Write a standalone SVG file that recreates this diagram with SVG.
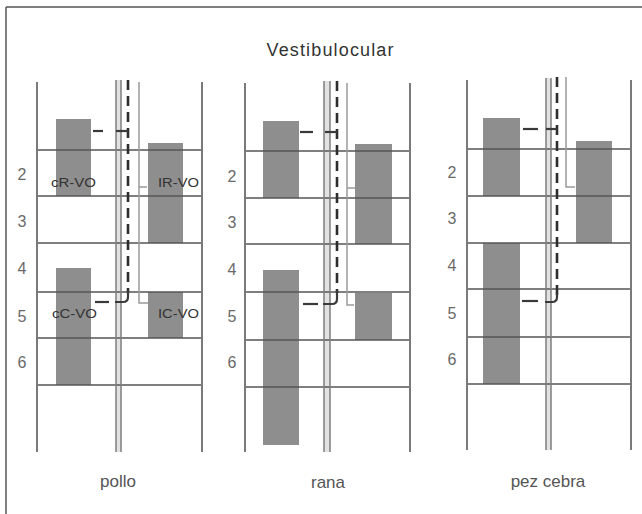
<svg xmlns="http://www.w3.org/2000/svg" width="642" height="514" viewBox="0 0 642 514">
<style>
.bg{fill:#ffffff}
.frame{stroke:#555;stroke-width:1.5;fill:none}
.rail{stroke:#7a7a7a;stroke-width:2;fill:none}
.mid{stroke:#7e7e7e;stroke-width:1.5;fill:none}
.band{fill:#e2e2e2}
.hl{stroke:#555;stroke-width:1.5;fill:none}
.box{fill:#8e8e8e}
.dash{stroke:#2e2e2e;stroke-width:2.6;stroke-dasharray:10 6;fill:none}
.seg{stroke:#3a3a3a;stroke-width:2.2;fill:none}
.thin{stroke:#9a9a9a;stroke-width:1.5;fill:none}
.num{font-family:"Liberation Sans",Arial,sans-serif;font-size:16px;fill:#6a6a6a;text-anchor:middle}
.lbl{font-family:"Liberation Sans",Arial,sans-serif;font-size:12px;fill:#333}
.cap{font-family:"Liberation Sans",Arial,sans-serif;font-size:17px;fill:#555;text-anchor:middle}
.title{font-family:"Liberation Sans",Arial,sans-serif;font-size:18px;fill:#333;text-anchor:middle}
</style>
<rect class="bg" x="0" y="0" width="642" height="514"/>
<g id="frame">
<line class="frame" x1="6" y1="7" x2="642" y2="7"/>
<line class="frame" x1="6" y1="7" x2="6" y2="514"/>
</g>
<text class="title" x="330" y="56" textLength="127">Vestibulocular</text>

<g id="pollo">
<rect class="box" x="56" y="119" width="35" height="77"/>
<rect class="box" x="148" y="143" width="35" height="100"/>
<rect class="box" x="56" y="268" width="35" height="117"/>
<rect class="box" x="148" y="292" width="35" height="46"/>
<rect class="band" x="116" y="80" width="5" height="372"/>
<g class="hl">
<line x1="37" y1="150" x2="202" y2="150"/>
<line x1="37" y1="196" x2="202" y2="196"/>
<line x1="37" y1="243" x2="202" y2="243"/>
<line x1="37" y1="292" x2="202" y2="292"/>
<line x1="37" y1="338" x2="202" y2="338"/>
<line x1="37" y1="385" x2="202" y2="385"/>
</g>
<line class="rail" x1="37" y1="82" x2="37" y2="452"/>
<line class="rail" x1="202" y1="82" x2="202" y2="452"/>
<line class="mid" x1="116" y1="80" x2="116" y2="452"/>
<line class="mid" x1="121" y1="80" x2="121" y2="452"/>
<text class="lbl" x="51" y="187" textLength="45" lengthAdjust="spacingAndGlyphs">cR-VO</text>
<text class="lbl" x="158" y="187" textLength="41" lengthAdjust="spacingAndGlyphs">IR-VO</text>
<text class="lbl" x="52" y="318" textLength="45" lengthAdjust="spacingAndGlyphs">cC-VO</text>
<text class="lbl" x="158" y="318" textLength="41" lengthAdjust="spacingAndGlyphs">IC-VO</text>
<text class="num" x="22" y="180">2</text>
<text class="num" x="22" y="227">3</text>
<text class="num" x="22" y="274">4</text>
<text class="num" x="22" y="322">5</text>
<text class="num" x="22" y="368">6</text>
<text class="cap" x="118" y="487">pollo</text>
</g>

<g id="rana">
<rect class="box" x="263" y="121" width="36" height="77"/>
<rect class="box" x="355" y="144" width="37" height="100"/>
<rect class="box" x="263" y="270" width="36" height="175"/>
<rect class="box" x="355" y="293" width="37" height="47"/>
<rect class="band" x="324" y="81" width="6" height="371"/>
<g class="hl">
<line x1="245" y1="151" x2="410" y2="151"/>
<line x1="245" y1="198" x2="410" y2="198"/>
<line x1="245" y1="244" x2="410" y2="244"/>
<line x1="245" y1="292" x2="410" y2="292"/>
<line x1="245" y1="340" x2="410" y2="340"/>
<line x1="245" y1="387" x2="410" y2="387"/>
</g>
<line class="rail" x1="245" y1="83" x2="245" y2="452"/>
<line class="rail" x1="410" y1="83" x2="410" y2="452"/>
<line class="mid" x1="324" y1="81" x2="324" y2="452"/>
<line class="mid" x1="330" y1="81" x2="330" y2="452"/>
<text class="num" x="232" y="182">2</text>
<text class="num" x="232" y="228">3</text>
<text class="num" x="232" y="275">4</text>
<text class="num" x="232" y="322">5</text>
<text class="num" x="232" y="368">6</text>
<text class="cap" x="328" y="488">rana</text>
</g>

<g id="pez-cebra">
<rect class="box" x="483" y="118" width="37" height="78"/>
<rect class="box" x="483" y="243" width="37" height="141"/>
<rect class="box" x="576" y="141" width="36" height="102"/>
<rect class="band" x="546" y="78" width="5" height="372"/>
<g class="hl">
<line x1="467" y1="149" x2="631" y2="149"/>
<line x1="467" y1="196" x2="631" y2="196"/>
<line x1="467" y1="243" x2="631" y2="243"/>
<line x1="467" y1="289" x2="631" y2="289"/>
<line x1="467" y1="337" x2="631" y2="337"/>
<line x1="467" y1="384" x2="631" y2="384"/>
</g>
<line class="rail" x1="467" y1="80" x2="467" y2="450"/>
<line class="rail" x1="631" y1="80" x2="631" y2="450"/>
<line class="mid" x1="546" y1="78" x2="546" y2="450"/>
<line class="mid" x1="551" y1="78" x2="551" y2="450"/>
<text class="num" x="452" y="178">2</text>
<text class="num" x="452" y="224">3</text>
<text class="num" x="452" y="271">4</text>
<text class="num" x="452" y="319">5</text>
<text class="num" x="452" y="365">6</text>
<text class="cap" x="548" y="487">pez cebra</text>
</g>

<g id="connectors">
<!-- pollo -->
<line class="dash" x1="128" y1="80" x2="128" y2="292"/>
<line class="seg" x1="93" y1="131" x2="103" y2="131"/>
<line class="seg" x1="116" y1="131" x2="128" y2="131"/>
<line class="seg" x1="95" y1="302" x2="109" y2="302"/>
<path class="seg" d="M128 290 L128 297 Q128 302 123 302 L115 302"/>
<path class="thin" d="M139 82 L139 303 L148 303"/>
<line class="thin" x1="139" y1="187" x2="147" y2="187"/>
<!-- rana -->
<line class="dash" x1="337" y1="81" x2="337" y2="293"/>
<line class="seg" x1="300" y1="132" x2="313" y2="132"/>
<line class="seg" x1="325" y1="132" x2="337" y2="132"/>
<line class="seg" x1="303" y1="304" x2="318" y2="304"/>
<path class="seg" d="M337 291 L337 299 Q337 304 332 304 L323 304"/>
<path class="thin" d="M347 83 L347 305 L354 305"/>
<line class="thin" x1="347" y1="188" x2="355" y2="188"/>
<!-- pez cebra -->
<line class="dash" x1="557" y1="77" x2="557" y2="295"/>
<line class="seg" x1="523" y1="129" x2="538" y2="129"/>
<line class="seg" x1="546" y1="129" x2="557" y2="129"/>
<line class="seg" x1="522" y1="301" x2="538" y2="301"/>
<path class="seg" d="M557 293 L557 297 Q557 302 552 302 L545 302"/>
<path class="thin" d="M566 77 L566 187 L575 187"/>
</g>
</svg>
